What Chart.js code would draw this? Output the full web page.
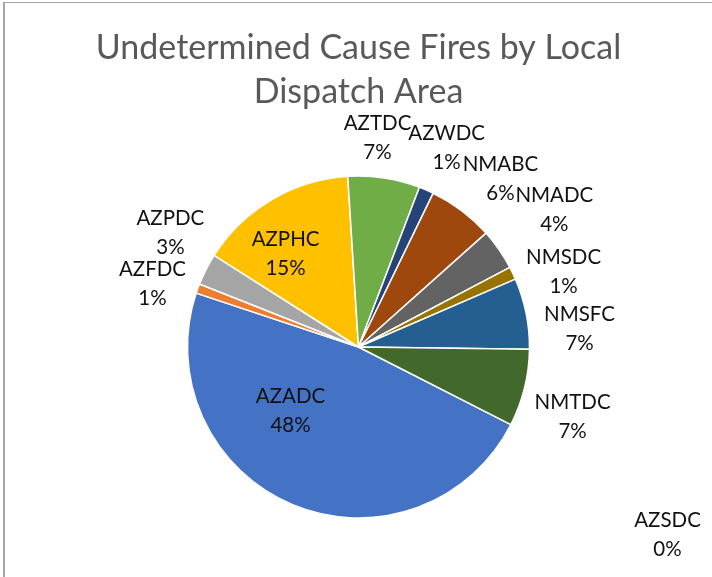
<!DOCTYPE html>
<html>
<head>
<meta charset="utf-8">
<script src="https://cdn.jsdelivr.net/npm/chart.js@4"></script>
<style>
  html, body { margin: 0; padding: 0; background: #fff; overflow: hidden; }
  #wrap { width: 712px; height: 577px; }
</style>
</head>
<body>
<div id="wrap"><canvas id="chart" width="712" height="577"></canvas></div>
<script>
// Data
const areas = ["AZADC", "AZFDC", "AZPDC", "AZPHC", "AZSDC", "AZTDC",
               "AZWDC", "NMABC", "NMADC", "NMSDC", "NMSFC", "NMTDC"];
const shares = [47.6, 0.9, 3.0, 15.0, 0, 6.8, 1.4, 6.2, 3.9, 1.2, 6.7, 7.3];
const titleLines = ["Undetermined Cause Fires by Local", "Dispatch Area"];

const colors = ["#4472C4", "#ED7D31", "#A5A5A5", "#FFC000", "#5B9BD5", "#70AD47",
                "#264478", "#9E480E", "#636363", "#997300", "#255E91", "#43682B"];

// label placement, polar around pie centre: [angle from top, clockwise (deg), distance / radius]
const labelPlace = [
    [226.7, 0.546], [287.0, 1.26], [301.2, 1.286], [321.9, 0.691],
    [121.3, 2.115], [5.2, 1.227], [23.9, 1.272], [40.2, 1.286],
    [55.0, 1.398], [69.9, 1.277], [85.3, 1.297], [108.1, 1.317]
];

const FONT = "Lato, 'Open Sans', sans-serif";

// frame + labels
const sheetPlugin = {
    id: "sheet",
    beforeDraw(chart) {
        let ctx = chart.ctx;
        ctx.save();
        ctx.fillStyle = "#fff";
        ctx.fillRect(0, 0, chart.width, chart.height);
        ctx.fillStyle = "#a6a6a6";
        ctx.fillRect(3, 2, 2, chart.height);
        ctx.fillRect(3, 2, chart.width, 1);
        ctx.restore();
    },
    afterDatasetsDraw(chart) {
        let ctx = chart.ctx;
        let meta = chart.getDatasetMeta(0);
        let total = shares.reduce((a, b) => a + b, 0);
        ctx.save();
        ctx.font = "20.5px " + FONT;
        ctx.fillStyle = "#111";
        ctx.textAlign = "center";
        ctx.textBaseline = "middle";
        meta.data.forEach((arc, i) => {
            let p = arc.getProps(["x", "y", "outerRadius"], true);
            let a = labelPlace[i][0] * Math.PI / 180;
            let d = labelPlace[i][1] * p.outerRadius;
            let cx = p.x + Math.sin(a) * d;
            let cy = p.y - Math.cos(a) * d;
            let pct = Math.round(shares[i] / total * 100) + "%";
            ctx.fillText(areas[i], cx, cy - 14.5);
            ctx.fillText(pct, cx, cy + 14.5);
        });
        ctx.restore();
    }
};

let ctx = document.getElementById("chart").getContext("2d");

let chart = new Chart(ctx, {
    type: "pie",
    data: {
        labels: areas,
        datasets: [{
            data: shares,
            backgroundColor: colors,
            borderColor: "#ffffff",
            borderWidth: 1.5
        }]
    },
    options: {
        responsive: false,
        animation: false,
        rotation: 117,
        layout: { padding: { left: 5, right: 0, top: 0, bottom: 58.25 } },
        plugins: {
            legend: { display: false },
            tooltip: { enabled: false },
            title: {
                display: true,
                text: titleLines,
                color: "#595959",
                font: { family: FONT, size: 34, weight: "normal", lineHeight: 1.3 },
                padding: { top: 26, bottom: 60.85 }
            }
        }
    },
    plugins: [sheetPlugin]
});
</script>
</body>
</html>
